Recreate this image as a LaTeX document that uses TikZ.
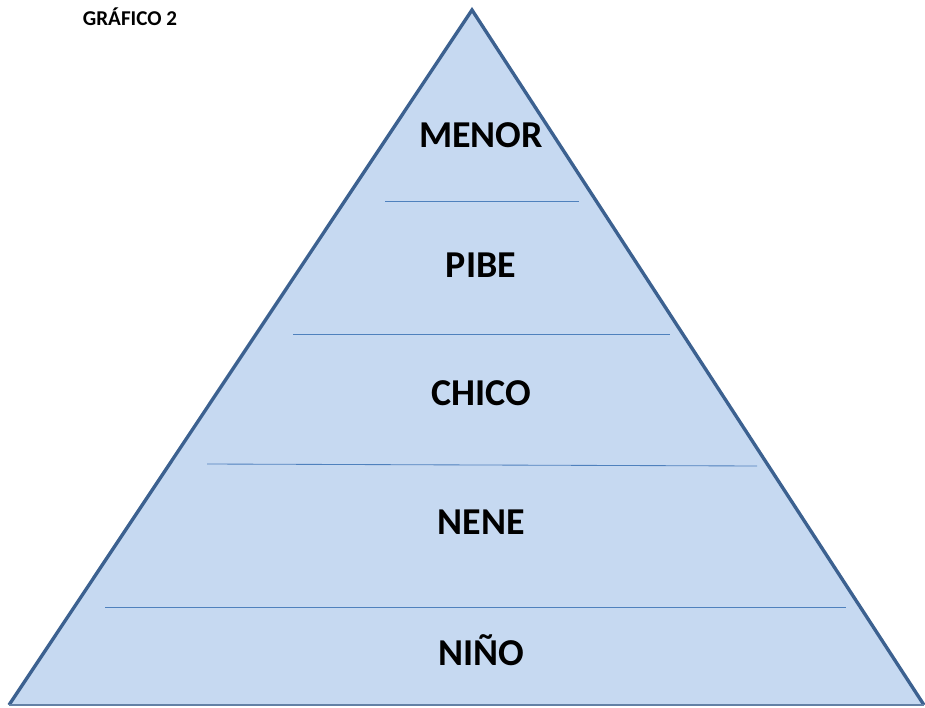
\documentclass[tikz,border=0pt]{standalone}
\usepackage{fontspec}
\setmainfont{Carlito}
\definecolor{pyrfill}{HTML}{C6D9F1}
\definecolor{pyredge}{HTML}{3C6190}
\definecolor{pyrline}{HTML}{4F81BD}

\begin{document}
\begin{tikzpicture}[x=0.025cm,y=-0.025cm]
  \tikzset{level/.style={font=\fontsize{27}{32}\selectfont\bfseries,inner sep=0pt},
           divider/.style={pyrline,line width=0.6pt}}
  \useasboundingbox (0,0) rectangle (925,708);
  \coordinate (top) at (472,10);
  \coordinate (bl) at (9,705);
  \coordinate (br) at (924,705);
  \fill[pyrfill] (top) -- (br) -- (bl) -- cycle;
  \draw[pyredge,line width=2.4pt,line join=miter] (bl) -- (top) -- (br);
  \draw[pyredge!80,line width=1.2pt] (bl) -- (br);
  % divisiones
  \draw[divider] (385,201) -- (579,201);
  \draw[divider] (293,334) -- (670,334);
  \draw[divider] (207,464) -- (757,466);
  \draw[divider] (105,607) -- (846,607);
  % niveles
  \node[level] (menor) at (481,135) {MENOR};
  \node[level] (pibe)  at (481,265) {PIBE};
  \node[level] (chico) at (481,393) {CHICO};
  \node[level] (nene)  at (481,522) {NENE};
  \node[level] (nino)  at (481,650) {NIÑO};
  \node[font=\fontsize{15}{18}\selectfont\bfseries,inner sep=0pt] (titulo) at (130,17) {GRÁFICO 2};
\end{tikzpicture}
\end{document}
